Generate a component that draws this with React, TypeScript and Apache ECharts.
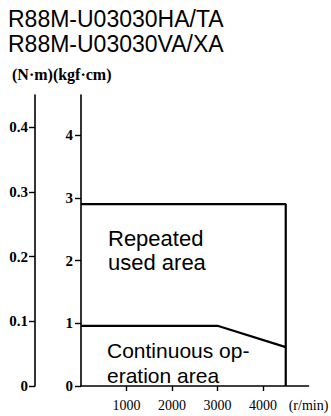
import React, { useEffect, useRef } from "react";
import * as echarts from "echarts";

// Speed (r/min), torque (kgf·cm)
const repeatedBoundary: [number, number][] = [
  [0, 2.9],
  [4500, 2.9],
  [4500, 0],
];
const continuousBoundary: [number, number][] = [
  [0, 0.96],
  [3000, 0.96],
  [4500, 0.62],
];
const xTickValues = [1000, 2000, 3000, 4000];
const xLabelValues = [1000, 2000, 3000, 4000, 5000];
const titleLines = ["R88M-U03030HA/TA", "R88M-U03030VA/XA"];
const unitsLabel = "(N·m)(kgf·cm)";
const repeatedLines = ["Repeated", "used area"];
const continuousLines = ["Continuous op-", "eration area"];

export default function App() {
  const ref = useRef<HTMLDivElement>(null);
  useEffect(() => {
    if (!ref.current) return;
    const chart = echarts.init(ref.current, null, { renderer: "svg" });
    const sans = "Liberation Sans, Arial, sans-serif";
    const serif = "Liberation Serif, Times New Roman, serif";
    const axisLine = { show: true, lineStyle: { color: "#000", width: 1.6 } };
    const tick = { show: true, length: 6, lineStyle: { color: "#000", width: 1.4 } };
    const txt = (text: string, x: number, y: number, size: number, family: string, weight = "normal") => ({
      type: "text",
      x,
      y,
      style: {
        text,
        font: `${weight} ${size}px ${family}`,
        fill: "#000",
        textAlign: "left",
        textVerticalAlign: "middle",
      },
    });
    chart.setOption({
      animation: false,
      backgroundColor: "#fff",
      grid: {
        left: 81,
        right: 22.5,
        top: 95,
        bottom: 30,
        containLabel: false,
        outerBoundsMode: "none",
      },
      xAxis: {
        type: "value",
        min: 0,
        max: 5000,
        interval: 1000,
        splitLine: { show: false },
        axisLine,
        axisTick: { ...tick, length: 5, customValues: xTickValues },
        axisLabel: {
          color: "#000",
          fontFamily: serif,
          fontSize: 14,
          margin: 12,
          customValues: xLabelValues,
          formatter: (v: number) => (v === 5000 ? "(r/min)" : v === 0 ? "" : String(v)),
        },
      },
      yAxis: [
        {
          type: "value",
          position: "left",
          offset: 0,
          min: 0,
          max: 4.64,
          interval: 1,
          splitLine: { show: false },
          axisLine,
          axisTick: tick,
          axisLabel: {
            color: "#000",
            fontFamily: serif,
            fontWeight: "bold",
            fontSize: 15,
            margin: 8,
            showMaxLabel: false,
            formatter: (v: number) => String(Math.round(v)),
          },
        },
        {
          type: "value",
          position: "left",
          offset: 46,
          min: 0,
          max: 0.45,
          interval: 0.1,
          splitLine: { show: false },
          axisLine,
          axisTick: tick,
          axisLabel: {
            color: "#000",
            fontFamily: serif,
            fontWeight: "bold",
            fontSize: 15,
            margin: 7,
            showMaxLabel: false,
            formatter: (v: number) => (v === 0 ? "0" : v.toFixed(1)),
          },
        },
      ],
      series: [
        {
          type: "line",
          yAxisIndex: 0,
          data: repeatedBoundary,
          symbol: "none",
          lineStyle: { color: "#000", width: 2.2 },
        },
        {
          type: "line",
          yAxisIndex: 0,
          data: continuousBoundary,
          symbol: "none",
          lineStyle: { color: "#000", width: 2.2 },
        },
      ],
      graphic: [
        txt(titleLines[0], 8, 19, 23, sans),
        txt(titleLines[1], 8, 44, 23, sans),
        txt(unitsLabel, 12, 74, 16, serif, "bold"),
        txt(repeatedLines[0], 108, 238, 22, sans),
        txt(repeatedLines[1], 108, 262, 22, sans),
        txt(continuousLines[0], 107, 350, 21, sans),
        txt(continuousLines[1], 107, 375, 21, sans),
      ],
    });
    return () => chart.dispose();
  }, []);
  return <div ref={ref} style={{ width: 331, height: 416, position: "absolute", left: 0, top: 0 }} />;
}
